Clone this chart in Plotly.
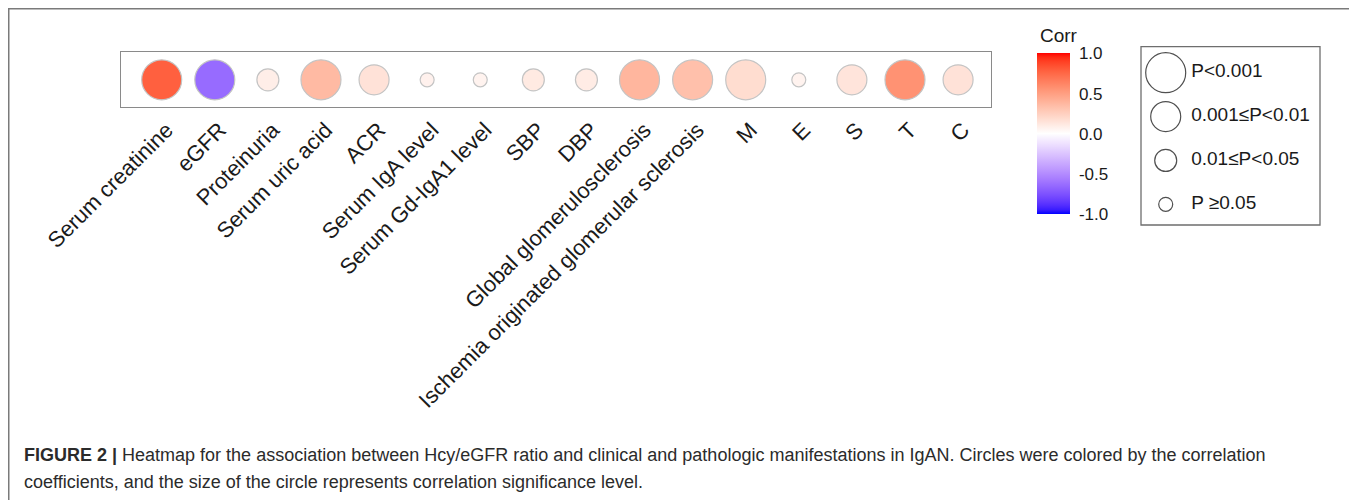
import plotly.graph_objects as go

# ---------------- data ----------------
categories = ["Serum creatinine", "eGFR", "Proteinuria", "Serum uric acid", "ACR",
              "Serum IgA level", "Serum Gd-IgA1 level", "SBP", "DBP",
              "Global glomerulosclerosis", "Ischemia originated glomerular sclerosis",
              "M", "E", "S", "T", "C"]
corr = [0.78, -0.64, 0.09, 0.36, 0.15, 0.07, 0.06, 0.11, 0.10,
        0.38, 0.33, 0.18, 0.06, 0.14, 0.56, 0.15]
p_level = ["P<0.001", "P<0.001", "0.01≤P<0.05", "P<0.001", "0.001≤P<0.01",
           "P ≥0.05", "P ≥0.05", "0.01≤P<0.05", "0.01≤P<0.05",
           "P<0.001", "P<0.001", "P<0.001", "P ≥0.05", "0.001≤P<0.01",
           "P<0.001", "0.001≤P<0.01"]
legend_labels = ["P<0.001", "0.001≤P<0.01", "0.01≤P<0.05", "P ≥0.05"]
cbar_ticks = [-1.0, -0.5, 0.0, 0.5, 1.0]
cbar_ticktext = ["-1.0", "-0.5", "0.0", "0.5", "1.0"]

# ---------------- styles ----------------
size_map = {"P<0.001": 40, "0.001≤P<0.01": 30, "0.01≤P<0.05": 22, "P ≥0.05": 14}
FONT = "Liberation Sans, Arial, sans-serif"
W, H = 1357, 500
OFF = 8  # page body margin


def px(x):
    return (x - OFF) / W


def py(y):
    return 1 - (y - OFF) / H


# Lab-space diverging gradient (blue - white - red), as ggplot2 does
def _lin(c):
    c = c / 255.0
    return c / 12.92 if c <= 0.04045 else ((c + 0.055) / 1.055) ** 2.4


def _delin(c):
    c = max(0.0, min(1.0, c))
    v = 12.92 * c if c <= 0.0031308 else 1.055 * c ** (1 / 2.4) - 0.055
    return max(0, min(255, round(v * 255)))


WX, WY, WZ = 0.95047, 1.0, 1.08883


def rgb2lab(rgb):
    r, g, b = [_lin(v) for v in rgb]
    x = (0.4124 * r + 0.3576 * g + 0.1805 * b) / WX
    y = (0.2126 * r + 0.7152 * g + 0.0722 * b) / WY
    z = (0.0193 * r + 0.1192 * g + 0.9505 * b) / WZ
    f = lambda t: t ** (1 / 3) if t > 0.008856 else 7.787 * t + 16 / 116
    fx, fy, fz = f(x), f(y), f(z)
    return (116 * fy - 16, 500 * (fx - fy), 200 * (fy - fz))


def lab2rgb(lab):
    L, a, bb = lab
    fy = (L + 16) / 116
    fx = fy + a / 500
    fz = fy - bb / 200
    finv = lambda t: t ** 3 if t ** 3 > 0.008856 else (t - 16 / 116) / 7.787
    x, y, z = finv(fx) * WX, finv(fy) * WY, finv(fz) * WZ
    r = 3.2406 * x - 1.5372 * y - 0.4986 * z
    g = -0.9689 * x + 1.8758 * y + 0.0415 * z
    b = 0.0557 * x - 0.2040 * y + 1.0570 * z
    return (_delin(r), _delin(g), _delin(b))


lab_lo, lab_mid, lab_hi = rgb2lab((0, 0, 255)), rgb2lab((255, 255, 255)), rgb2lab((255, 0, 0))
colorscale = []
N = 40
for i in range(N + 1):
    s = i / N
    if s <= 0.5:
        t = s / 0.5
        lab = tuple(lab_lo[k] + (lab_mid[k] - lab_lo[k]) * t for k in range(3))
    else:
        t = (s - 0.5) / 0.5
        lab = tuple(lab_mid[k] + (lab_hi[k] - lab_mid[k]) * t for k in range(3))
    r, g, b = lab2rgb(lab)
    colorscale.append([s, f"rgb({r},{g},{b})"])

fig = go.Figure()

# main correlation circles
fig.add_trace(go.Scatter(
    x=categories, y=[0] * len(categories), mode="markers",
    marker=dict(size=[size_map[p] for p in p_level], color=corr, opacity=1,
                colorscale=colorscale, cmin=-1, cmax=1,
                line=dict(color="#c4c4c4", width=1.2),
                colorbar=dict(
                    thickness=33, thicknessmode="pixels",
                    len=161, lenmode="pixels",
                    x=px(1037.3), xanchor="left", xpad=0,
                    y=py(53.3), yanchor="top", ypad=0,
                    tickvals=cbar_ticks, ticktext=cbar_ticktext,
                    ticks="outside", ticklen=6, tickcolor="rgba(255,255,255,0)",
                    tickwidth=1, outlinewidth=0,
                    tickfont=dict(family=FONT, size=17, color="#1a1a1a"))),
    hoverinfo="x+text", text=[f"{c:.2f}" for c in corr], showlegend=False,
    xaxis="x", yaxis="y"))

# size legend (open circles)
leg_idx = list(range(len(legend_labels)))
fig.add_trace(go.Scatter(
    x=[0] * len(legend_labels), y=leg_idx, mode="markers",
    marker=dict(size=[size_map[l] for l in legend_labels], color="rgba(0,0,0,0)",
                opacity=1, line=dict(color="#505050", width=1.2)),
    hoverinfo="skip", showlegend=False, xaxis="x2", yaxis="y2"))
fig.add_trace(go.Scatter(
    x=[1] * len(legend_labels), y=leg_idx, mode="text", text=legend_labels,
    textposition="middle right",
    textfont=dict(family=FONT, size=19, color="#1a1a1a"),
    hoverinfo="skip", showlegend=False, xaxis="x2", yaxis="y2"))

fig.update_layout(
    width=W, height=H, margin=dict(l=0, r=0, t=0, b=0, autoexpand=False),
    paper_bgcolor="white", plot_bgcolor="white",
    xaxis=dict(domain=[px(120.7), px(991)], range=[-0.772, 15.62],
               showgrid=False, zeroline=False, showline=True, mirror=True,
               linecolor="#8a8a8a", linewidth=1.3, ticks="", tickangle=-45,
               ticklabelshift=5, automargin=False,
               tickfont=dict(family=FONT, size=22, color="#1a1a1a"),
               fixedrange=True),
    yaxis=dict(domain=[py(107.3), py(52.3)], range=[-1, 1],
               showgrid=False, zeroline=False, showline=True, mirror=True,
               linecolor="#8a8a8a", linewidth=1.3, showticklabels=False,
               ticks="", fixedrange=True, automargin=False),
    xaxis2=dict(domain=[px(1141), px(1320)], range=[-0.969, 6.05],
                showgrid=False, zeroline=False, showline=False,
                showticklabels=False, ticks="", fixedrange=True, automargin=False),
    yaxis2=dict(domain=[py(225), py(46.7)], range=[3.472, -0.593],
                showgrid=False, zeroline=False, showline=False,
                showticklabels=False, ticks="", fixedrange=True, automargin=False),
    shapes=[
        # legend frame
        dict(type="rect", xref="paper", yref="paper",
             x0=px(1141), x1=px(1320), y0=py(225), y1=py(46.7),
             line=dict(color="#6e6e6e", width=1.3)),
        # outer figure frame
        dict(type="rect", xref="paper", yref="paper",
             x0=px(8.5), x1=px(1355.5), y0=-0.1, y1=py(8.5),
             line=dict(color="#7a7a7a", width=2)),
    ],
    annotations=[
        dict(xref="paper", yref="paper", x=px(1038), y=py(35),
             xanchor="left", yanchor="middle", showarrow=False, text="Corr",
             font=dict(family=FONT, size=19, color="#1a1a1a")),
        dict(xref="paper", yref="paper", x=px(22), y=py(455),
             xanchor="left", yanchor="middle", showarrow=False,
             text="<b>FIGURE 2 |</b> Heatmap for the association between Hcy/eGFR ratio and "
                  "clinical and pathologic manifestations in IgAN. Circles were colored by the "
                  "correlation",
             font=dict(family=FONT, size=18, color="#2b2b2b")),
        dict(xref="paper", yref="paper", x=px(22), y=py(482),
             xanchor="left", yanchor="middle", showarrow=False,
             text="coefficients, and the size of the circle represents correlation "
                  "significance level.",
             font=dict(family=FONT, size=18, color="#2b2b2b")),
    ],
)

fig.write_html("out.html")
